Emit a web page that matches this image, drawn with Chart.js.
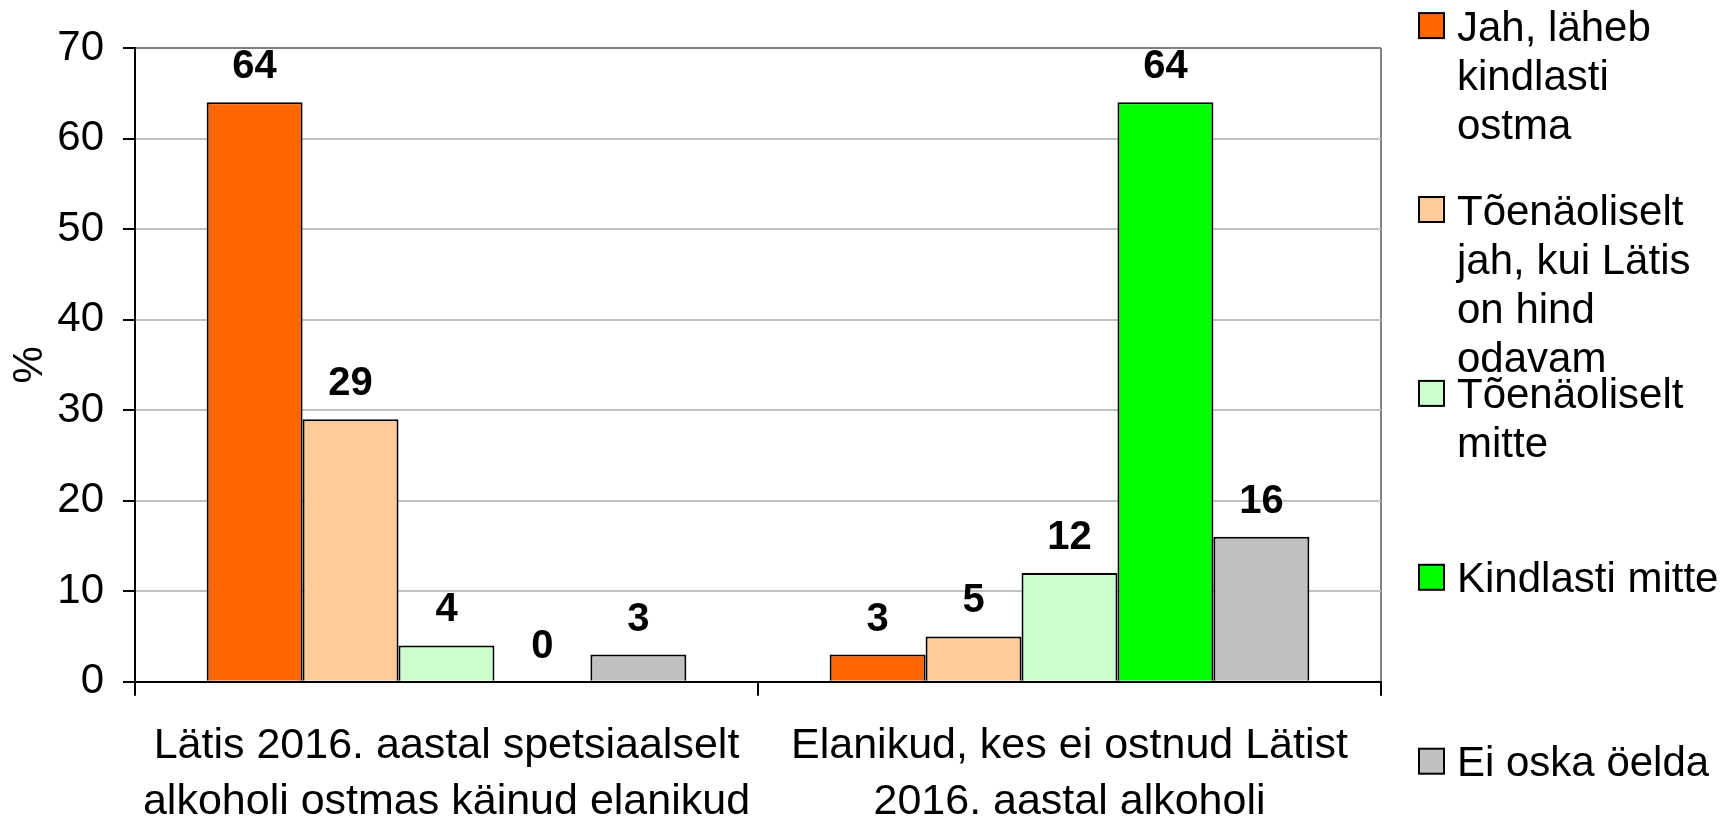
<!DOCTYPE html>
<html>
<head>
<meta charset="utf-8">
<script src="https://cdn.jsdelivr.net/npm/chart.js@4.4.0/dist/chart.umd.min.js"></script>
<style>
  html, body { margin: 0; padding: 0; background: #fff; }
  canvas { display: block; }
</style>
</head>
<body>
<canvas id="c" width="1724" height="818"></canvas>
<script>
(() => {
    'use strict';

    // ===== Data =====
    const categories = [
        ['Lätis 2016. aastal spetsiaalselt', 'alkoholi ostmas käinud elanikud'],
        ['Elanikud, kes ei ostnud Lätist', '2016. aastal alkoholi']
    ];
    const seriesNames = [
        'Jah, läheb kindlasti ostma',
        'Tõenäoliselt jah, kui Lätis on hind odavam',
        'Tõenäoliselt mitte',
        'Kindlasti mitte',
        'Ei oska öelda'
    ];
    // legend text as wrapped in the picture
    const legendLines = [
        ['Jah, läheb', 'kindlasti', 'ostma'],
        ['Tõenäoliselt', 'jah, kui Lätis', 'on hind', 'odavam'],
        ['Tõenäoliselt', 'mitte'],
        ['Kindlasti mitte'],
        ['Ei oska öelda']
    ];
    const jahKindlasti    = [64, 3];
    const toenaoliseltJah = [29, 5];
    const toenaoliseltEi  = [4, 12];
    const kindlastiMitte  = [0, 64];
    const eiOska          = [3, 16];
    const yTicks = [0, 10, 20, 30, 40, 50, 60, 70];

    const seriesColors = ['#FF6600', '#FFCC99', '#CCFFCC', '#00FF00', '#C0C0C0'];
    const FONT = '"Liberation Sans", Arial, sans-serif';

    // ===== Plugins =====
    // value labels above bars
    const valueLabels = {
        id: 'valueLabels',
        afterDatasetsDraw(chart) {
            const ctx = chart.ctx;
            ctx.save();
            ctx.font = 'bold 40px ' + FONT;
            ctx.fillStyle = '#000';
            ctx.textAlign = 'center';
            ctx.textBaseline = 'alphabetic';
            chart.data.datasets.forEach((ds, i) => {
                chart.getDatasetMeta(i).data.forEach((bar, j) => {
                    ctx.fillText(String(ds.data[j]), bar.x, bar.y - 24);
                });
            });
            ctx.restore();
        }
    };

    // legend on the right, with wrapped lines
    const sideLegend = {
        id: 'sideLegend',
        afterDraw(chart) {
            const ctx = chart.ctx;
            const area = chart.chartArea;
            const boxX = area.right + 38, box = 25;
            const textX = boxX + 38;
            const firstY = 25.6, step = 183.9, lineH = 49;
            ctx.save();
            ctx.font = '42px ' + FONT;
            ctx.textAlign = 'left';
            ctx.textBaseline = 'alphabetic';
            chart.data.datasets.forEach((ds, i) => {
                const cy = firstY + i * step;
                ctx.fillStyle = ds.backgroundColor;
                ctx.fillRect(boxX, cy - box / 2, box, box);
                ctx.strokeStyle = '#000';
                ctx.lineWidth = 2;
                ctx.strokeRect(boxX, cy - box / 2, box, box);
                ctx.fillStyle = '#000';
                legendLines[i].forEach((t, k) => ctx.fillText(t, textX, cy + k * lineH + 15));
            });
            ctx.restore();
        }
    };

    // ===== Chart =====
    const seriesData = [jahKindlasti, toenaoliseltJah, toenaoliseltEi, kindlastiMitte, eiOska];

    new Chart(document.getElementById('c').getContext('2d'), {
        type: 'bar',
        data: {
            labels: categories,
            datasets: seriesData.map((d, i) => ({
                label: seriesNames[i],
                data: d,
                backgroundColor: seriesColors[i],
                borderColor: '#000',
                borderWidth: 2,
                categoryPercentage: 0.77,
                barPercentage: 1
            }))
        },
        options: {
            responsive: false,
            animation: false,
            layout: { padding: { top: 48, right: 343, bottom: 0, left: 0 } },
            plugins: {
                legend: { display: false },
                tooltip: { enabled: false }
            },
            scales: {
                x: {
                    grid: {
                        offset: true,
                        drawOnChartArea: true,
                        color: c => (c.type === 'scale' ? '#808080' : 'rgba(0,0,0,0)'),
                        lineWidth: 2,
                        tickLength: 14,
                        tickColor: '#000',
                        tickWidth: 2
                    },
                    border: { color: '#000', width: 2 },
                    ticks: {
                        font: { size: 43, family: FONT, lineHeight: 56 / 43 },
                        color: '#000',
                        padding: 22,
                        maxRotation: 0,
                        autoSkip: false
                    },
                    afterFit: s => { s.height = 136.3; }
                },
                y: {
                    min: 0,
                    max: 70,
                    afterBuildTicks: s => { s.ticks = yTicks.map(v => ({ value: v })); },
                    grid: {
                        color: c => (c.tick && c.tick.value === 70 ? '#808080' : '#C0C0C0'),
                        lineWidth: 2,
                        tickLength: 12,
                        tickColor: '#000',
                        tickWidth: 2
                    },
                    border: { color: '#000', width: 2 },
                    ticks: {
                        font: { size: 42, family: FONT },
                        color: '#000',
                        padding: 19
                    },
                    title: {
                        display: true,
                        text: '%',
                        font: { size: 42, family: FONT },
                        color: '#000',
                        padding: { top: 5, bottom: 0 }
                    },
                    afterFit: s => { s.width = 135; }
                }
            }
        },
        plugins: [valueLabels, sideLegend]
    });
})();
</script>
</body>
</html>
